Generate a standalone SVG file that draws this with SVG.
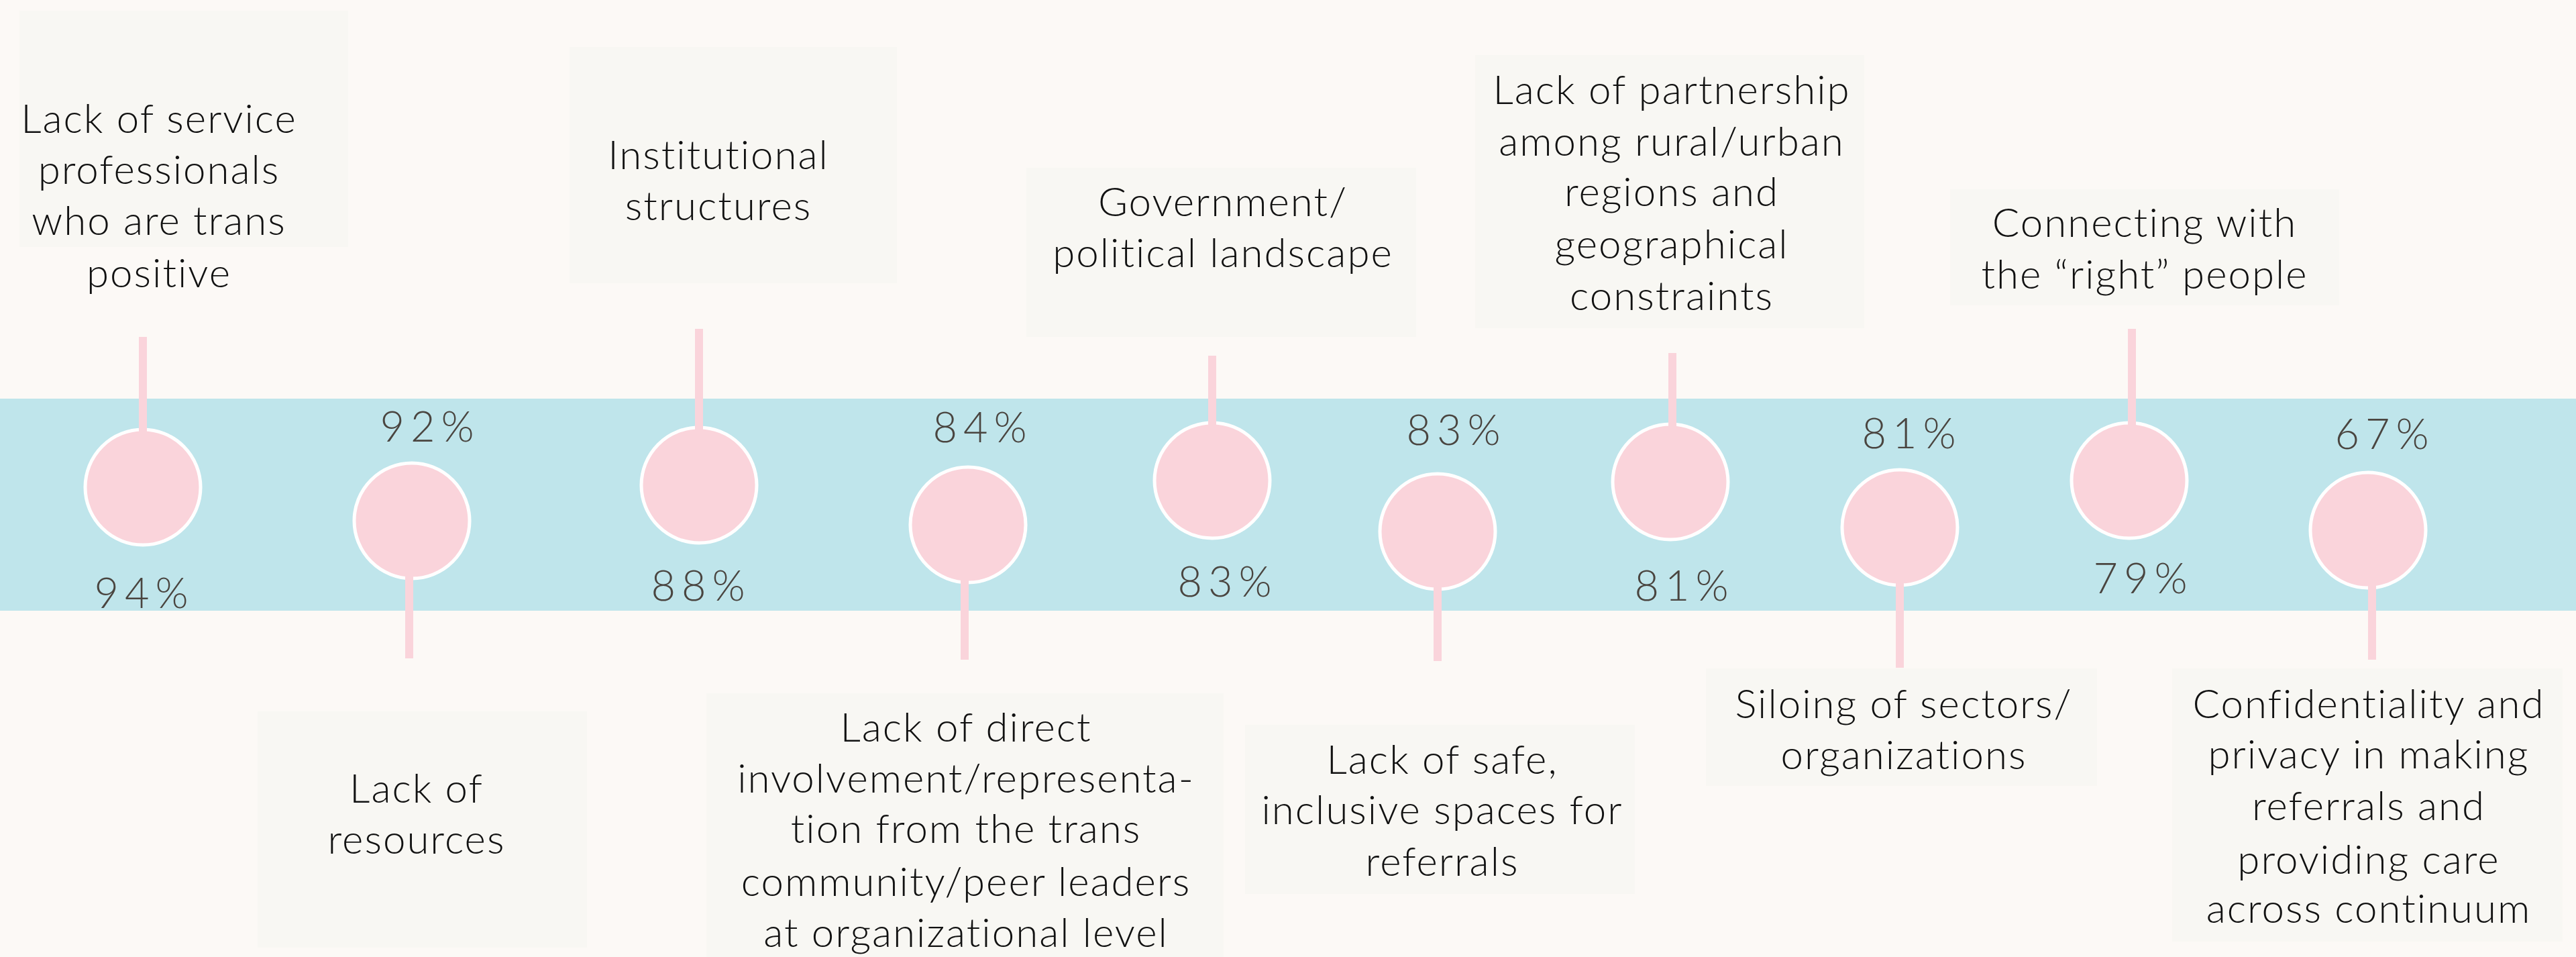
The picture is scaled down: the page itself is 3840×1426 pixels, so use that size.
<svg xmlns="http://www.w3.org/2000/svg" width="3840" height="1426" viewBox="0 0 3840 1426">
  <style>
    .box { fill: #F8F7F3; }
    .lbl { font-family: Lato, "Liberation Sans", sans-serif; font-weight: 300; font-size: 60px; fill: #111111; text-anchor: middle; letter-spacing: 2px; }
    .pct { font-family: Lato, "Liberation Sans", sans-serif; font-weight: 300; font-size: 63px; fill: #4A4540; text-anchor: middle; letter-spacing: 9px; }
    .dot { fill: #FAD4DB; stroke: #FFFFFF; stroke-width: 5; }
    .stem { stroke: #FAD4DB; stroke-width: 12; fill: none; }
  </style>

  <!-- page background and timeline band -->
  <rect x="0" y="0" width="3840" height="1426" fill="#FCF9F6"/>
  <rect x="0" y="594" width="3840" height="316" fill="#BFE5EB"/>

  <!-- label panels above the band -->
  <g id="label-service-professionals">
    <rect class="box" x="29" y="16" width="490" height="352"/>
    <text class="lbl"><tspan x="237" y="198">Lack of service</tspan><tspan x="237" y="274">professionals</tspan><tspan x="237" y="350">who are trans</tspan><tspan x="237" y="428">positive</tspan></text>
  </g>
  <g id="label-institutional">
    <rect class="box" x="849" y="70" width="488" height="352"/>
    <text class="lbl"><tspan x="1071" y="252">Institutional</tspan><tspan x="1071" y="328">structures</tspan></text>
  </g>
  <g id="label-government">
    <rect class="box" x="1530" y="250" width="581" height="252"/>
    <text class="lbl"><tspan x="1823" y="322">Government/</tspan><tspan x="1823" y="398">political landscape</tspan></text>
  </g>
  <g id="label-partnership">
    <rect class="box" x="2199" y="82" width="580" height="407"/>
    <text class="lbl"><tspan x="2492" y="155">Lack of partnership</tspan><tspan x="2492" y="232">among rural/urban</tspan><tspan x="2492" y="307">regions and</tspan><tspan x="2492" y="385">geographical</tspan><tspan x="2492" y="462">constraints</tspan></text>
  </g>
  <g id="label-right-people">
    <rect class="box" x="2907" y="282" width="580" height="173"/>
    <text class="lbl"><tspan x="3197" y="353">Connecting with</tspan><tspan x="3197" y="430">the “right” people</tspan></text>
  </g>

  <!-- label panels below the band -->
  <g id="label-resources">
    <rect class="box" x="384" y="1060" width="491" height="352"/>
    <text class="lbl"><tspan x="621" y="1196">Lack of</tspan><tspan x="621" y="1272">resources</tspan></text>
  </g>
  <g id="label-involvement">
    <rect class="box" x="1053" y="1033" width="771" height="393"/>
    <text class="lbl"><tspan x="1440" y="1105">Lack of direct</tspan><tspan x="1440" y="1181">involvement/representa-</tspan><tspan x="1440" y="1256">tion from the trans</tspan><tspan x="1440" y="1335">community/peer leaders</tspan><tspan x="1440" y="1411">at organizational level</tspan></text>
  </g>
  <g id="label-safe-spaces">
    <rect class="box" x="1856" y="1080" width="581" height="252"/>
    <text class="lbl"><tspan x="2150" y="1153">Lack of safe,</tspan><tspan x="2150" y="1228">inclusive spaces for</tspan><tspan x="2150" y="1305">referrals</tspan></text>
  </g>
  <g id="label-siloing">
    <rect class="box" x="2543" y="996" width="583" height="175"/>
    <text class="lbl"><tspan x="2838" y="1070">Siloing of sectors/</tspan><tspan x="2838" y="1146">organizations</tspan></text>
  </g>
  <g id="label-confidentiality">
    <rect class="box" x="3238" y="996" width="582" height="407"/>
    <text class="lbl"><tspan x="3531" y="1070">Confidentiality and</tspan><tspan x="3531" y="1145">privacy in making</tspan><tspan x="3531" y="1222">referrals and</tspan><tspan x="3531" y="1302">providing care</tspan><tspan x="3531" y="1375">across continuum</tspan></text>
  </g>

  <!-- markers on the band -->
  <g id="marker-1"><circle class="dot" cx="213" cy="726" r="86"/></g>
  <g id="marker-2"><circle class="dot" cx="614" cy="776" r="86"/></g>
  <g id="marker-3"><circle class="dot" cx="1042" cy="723" r="86"/></g>
  <g id="marker-4"><circle class="dot" cx="1443" cy="782" r="86"/></g>
  <g id="marker-5"><circle class="dot" cx="1807" cy="716" r="86"/></g>
  <g id="marker-6"><circle class="dot" cx="2143" cy="792" r="86"/></g>
  <g id="marker-7"><circle class="dot" cx="2490" cy="718" r="86"/></g>
  <g id="marker-8"><circle class="dot" cx="2832" cy="786" r="86"/></g>
  <g id="marker-9"><circle class="dot" cx="3174" cy="716" r="86"/></g>
  <g id="marker-10"><circle class="dot" cx="3530" cy="790" r="86"/></g>

  <!-- stems joining markers to their panels -->
  <g id="connectors">
    <line class="stem" x1="213" y1="502" x2="213" y2="645"/>
    <line class="stem" x1="610" y1="857" x2="610" y2="981"/>
    <line class="stem" x1="1042" y1="490" x2="1042" y2="642"/>
    <line class="stem" x1="1438" y1="863" x2="1438" y2="983"/>
    <line class="stem" x1="1807" y1="530" x2="1807" y2="635"/>
    <line class="stem" x1="2143" y1="873" x2="2143" y2="985"/>
    <line class="stem" x1="2493" y1="526" x2="2493" y2="637"/>
    <line class="stem" x1="2832" y1="867" x2="2832" y2="995"/>
    <line class="stem" x1="3178" y1="490" x2="3178" y2="635"/>
    <line class="stem" x1="3536" y1="871" x2="3536" y2="983"/>
  </g>

  <!-- percentages -->
  <g id="percentages">
    <text class="pct" x="215" y="906">94%</text>
    <text class="pct" x="641" y="658">92%</text>
    <text class="pct" x="1045" y="895">88%</text>
    <text class="pct" x="1465" y="659">84%</text>
    <text class="pct" x="1830" y="889">83%</text>
    <text class="pct" x="2171" y="663">83%</text>
    <text class="pct" x="2511" y="895">81%</text>
    <text class="pct" x="2850" y="668">81%</text>
    <text class="pct" x="3195" y="884">79%</text>
    <text class="pct" x="3555" y="669">67%</text>
  </g>
</svg>
